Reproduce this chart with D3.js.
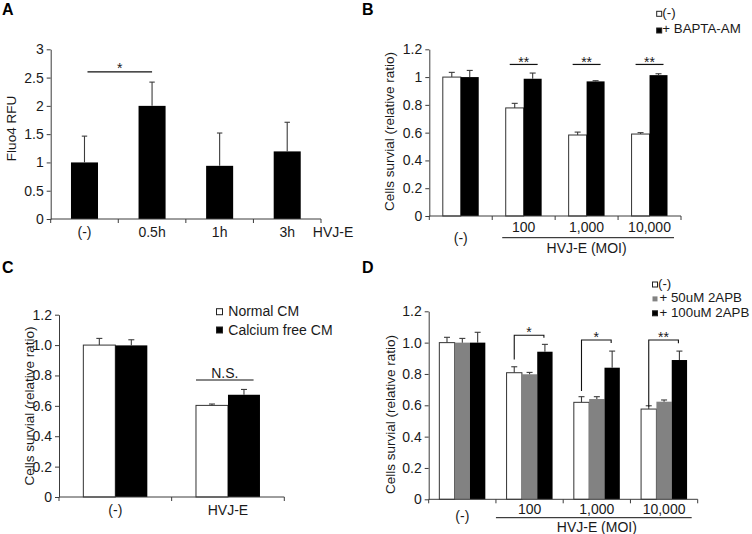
<!DOCTYPE html>
<html><head><meta charset="utf-8">
<script src="https://cdn.jsdelivr.net/npm/d3@7"></script>
<style>
body{margin:0;background:#fff;}
svg{display:block;font-family:"Liberation Sans",Arial,sans-serif;}
</style></head><body>
<svg id="chart" width="752" height="534"></svg>
<script>
// ---------- DATA ----------
// Panel A
const aCats = ["(-)", "0.5h", "1h", "3h"];
const aValues = [1.0, 2.0, 0.94, 1.195];
const aErrors = [0.465, 0.42, 0.58, 0.515];
const aTicks = [0, 0.5, 1, 1.5, 2, 2.5, 3];
const aSigPair = [0, 1];
const aSigLevel = 2.6;
const aSigLabel = "*";

// Panel B
const bCats = ["(-)", "100", "1,000", "10,000"];
const bSeries = ["(-)", "+ BAPTA-AM"];
const bControl = [1.0, 0.778, 0.583, 0.59];
const bControlErr = [0.034, 0.033, 0.021, 0.01];
const bBapta = [1.0, 0.988, 0.969, 1.014];
const bBaptaErr = [0.048, 0.041, 0.005, 0.01];
const bTicks = [0, 0.2, 0.4, 0.6, 0.8, 1, 1.2];
const bSigGroups = [1, 2, 3];
const bSigLevel = 1.091;
const bSigLabels = ["**", "**", "**"];

// Panel C
const cCats = ["(-)", "HVJ-E"];
const cSeries = ["Normal CM", "Calcium free CM"];
const cNormal = [1.0, 0.603];
const cNormalErr = [0.044, 0.009];
const cCaFree = [0.998, 0.673];
const cCaFreeErr = [0.037, 0.035];
const cTicks = [0, 0.2, 0.4, 0.6, 0.8, 1.0, 1.2];
const cSigGroup = 1;
const cSigLevel = 0.77;
const cSigLabel = "N.S.";

// Panel D
const dCats = ["(-)", "100", "1,000", "10,000"];
const dSeries = ["(-)", "+ 50uM 2APB", "+ 100uM 2APB"];
const dControl = [1.0, 0.808, 0.619, 0.576];
const dControlErr = [0.034, 0.038, 0.036, 0.021];
const d50 = [1.0, 0.798, 0.64, 0.623];
const d50Err = [0.027, 0.012, 0.015, 0.011];
const d100 = [1.0, 0.942, 0.84, 0.889];
const d100Err = [0.066, 0.047, 0.106, 0.057];
const dTicks = [0, 0.2, 0.4, 0.6, 0.8, 1.0, 1.2];
const dBracketGroups = [1, 2, 3];
const dBracketTop = [1.047, 1.017, 1.017];
const dBracketLeft = [0.893, 0.691, 0.591];
const dBracketRight = [1.031, 0.997, 0.996];
const dBracketLabels = ["*", "*", "**"];

// ---------- STYLE ----------
const FONT = '"Liberation Sans", Arial, sans-serif';
const AXIS = "#3c3c3c";
const ERR = "#3c3c3c";
const TXT = "#1a1a1a";
const GRAY = "#828282";

const svg = d3.select("#chart");

function styleAxis(g) {
  g.attr("font-family", FONT).attr("font-size", 14);
  g.select(".domain").attr("stroke", AXIS);
  g.selectAll(".tick line").attr("stroke", AXIS);
  g.selectAll(".tick text").attr("fill", TXT);
}

function drawYAxis(x0, y, ticks, fmt) {
  const g = svg.append("g").attr("transform", `translate(${x0},0)`)
    .call(d3.axisLeft(y).tickValues(ticks).tickFormat(fmt).tickSize(4).tickPadding(3).tickSizeOuter(0));
  styleAxis(g);
  return g;
}

function drawXAxisLine(x, y0) {
  const r = x.range();
  const g = svg.append("g");
  g.append("line").attr("x1", r[0]).attr("x2", r[1]).attr("y1", y0).attr("y2", y0)
    .attr("stroke", AXIS);
  const bounds = x.domain().map(c => x(c)).concat([r[1]]);
  g.selectAll("line.bt").data(bounds).join("line").attr("class", "bt")
    .attr("x1", d => d).attr("x2", d => d).attr("y1", y0).attr("y2", y0 + 4)
    .attr("stroke", AXIS);
}

function drawErr(cx, yTop, yErr, half) {
  svg.append("line").attr("x1", cx).attr("x2", cx).attr("y1", yTop).attr("y2", yErr)
    .attr("stroke", ERR).attr("stroke-width", 1.1);
  svg.append("line").attr("x1", cx - half).attr("x2", cx + half).attr("y1", yErr).attr("y2", yErr)
    .attr("stroke", ERR).attr("stroke-width", 1.1);
}

function yLabel(x, yc, text) {
  svg.append("text").attr("transform", `translate(${x},${yc}) rotate(-90)`)
    .attr("text-anchor", "middle").attr("font-size", 13.5).attr("fill", TXT).text(text);
}

function txt(x, y, s, size, anchor, weight) {
  return svg.append("text").attr("x", x).attr("y", y).attr("font-size", size)
    .attr("text-anchor", anchor || "middle").attr("font-weight", weight || "normal")
    .attr("fill", TXT).text(s);
}

// ---------- PANEL LETTERS ----------
[["A", 2, 15], ["B", 362, 15], ["C", 2, 273], ["D", 362, 273]].forEach(([l, x, y]) =>
  txt(x, y, l, 16, "start", "bold").attr("fill", "#000"));

// ---------- PANEL A ----------
{
  const x = d3.scaleBand().domain(aCats).range([50.7, 321]).padding(0);
  const y = d3.scaleLinear().domain([0, 3]).range([219, 49.3]);
  const bw = x.bandwidth() * 0.4;
  aCats.forEach((c, i) => {
    const cx = x(c) + x.bandwidth() / 2;
    svg.append("rect").attr("x", cx - bw / 2).attr("y", y(aValues[i]))
      .attr("width", bw).attr("height", y(0) - y(aValues[i])).attr("fill", "#000");
    drawErr(cx, y(aValues[i]), y(aValues[i] + aErrors[i]), 2.7);
    txt(cx, 237, c, 14);
  });
  drawYAxis(50.7, y, aTicks, d => String(d));
  drawXAxisLine(x, 219);
  txt(333, 237, "HVJ-E", 14);
  yLabel(16, 128.5, "Fluo4 RFU");
  const c0 = x(aCats[aSigPair[0]]) + x.bandwidth() / 2 + 3;
  const c1 = x(aCats[aSigPair[1]]) + x.bandwidth() / 2;
  svg.append("line").attr("x1", c0).attr("x2", c1).attr("y1", y(aSigLevel)).attr("y2", y(aSigLevel))
    .attr("stroke", "#111").attr("stroke-width", 1.2);
  txt((c0 + c1) / 2, y(aSigLevel) + 1.5, aSigLabel, 14);
}

// ---------- PANEL B ----------
{
  const x = d3.scaleBand().domain(bCats).range([429.3, 681]).padding(0);
  const y = d3.scaleLinear().domain([0, 1.2]).range([216, 49.3]);
  const gw = x.bandwidth() * 0.571;
  const xs = d3.scaleBand().domain(bSeries).range([0, gw]).padding(0);
  const vals = [bControl, bBapta], errs = [bControlErr, bBaptaErr];
  const fills = ["#fff", "#000"];
  bCats.forEach((c, i) => {
    const gx = x(c) + (x.bandwidth() - gw) / 2;
    bSeries.forEach((s, j) => {
      const v = vals[j][i];
      svg.append("rect").attr("x", gx + xs(s)).attr("y", y(v)).attr("width", xs.bandwidth())
        .attr("height", y(0) - y(v)).attr("fill", fills[j])
        .attr("stroke", j === 0 ? "#333" : "none").attr("stroke-width", 1);
      drawErr(gx + xs(s) + xs.bandwidth() / 2, y(v), y(v + errs[j][i]), 3);
    });
    const cx = x(c) + x.bandwidth() / 2;
    if (i === 0) txt(cx, 243, c, 14); else txt(cx, 231.5, c, 14);
  });
  drawYAxis(429.3, y, bTicks, d => String(d));
  drawXAxisLine(x, 216);
  svg.append("line").attr("x1", x(bCats[1]) + 10).attr("x2", x.range()[1] - 7)
    .attr("y1", 237.7).attr("y2", 237.7).attr("stroke", "#111");
  txt((x(bCats[1]) + x.range()[1]) / 2, 253, "HVJ-E (MOI)", 14);
  yLabel(394, 131.5, "Cells survial (relative ratio)");
  bSigGroups.forEach((gi, k) => {
    const gx = x(bCats[gi]) + (x.bandwidth() - gw) / 2;
    const x1 = gx + xs(bSeries[0]) + 4, x2 = gx + xs(bSeries[1]) + xs.bandwidth() - 4;
    svg.append("line").attr("x1", x1).attr("x2", x2).attr("y1", y(bSigLevel)).attr("y2", y(bSigLevel))
      .attr("stroke", "#111").attr("stroke-width", 1.2);
    txt((x1 + x2) / 2, y(bSigLevel) + 2.5, bSigLabels[k], 14);
  });
  // legend
  bSeries.forEach((s, j) => {
    const cy = 13.8 + j * 16.7;
    svg.append("rect").attr("x", 656.7).attr("y", cy - 2.5).attr("width", 5).attr("height", 5)
      .attr("fill", fills[j]).attr("stroke", "#222").attr("stroke-width", 1);
    txt(662.3, cy + 2.8, s, 13.3, "start");
  });
}

// ---------- PANEL C ----------
{
  const x = d3.scaleBand().domain(cCats).range([59, 284.3]).padding(0);
  const y = d3.scaleLinear().domain([0, 1.2]).range([497, 314.7]);
  const gw = x.bandwidth() * 0.568;
  const xs = d3.scaleBand().domain(cSeries).range([0, gw]).padding(0);
  const vals = [cNormal, cCaFree], errs = [cNormalErr, cCaFreeErr];
  const fills = ["#fff", "#000"];
  cCats.forEach((c, i) => {
    const gx = x(c) + (x.bandwidth() - gw) / 2;
    cSeries.forEach((s, j) => {
      const v = vals[j][i];
      svg.append("rect").attr("x", gx + xs(s)).attr("y", y(v)).attr("width", xs.bandwidth())
        .attr("height", y(0) - y(v)).attr("fill", fills[j])
        .attr("stroke", j === 0 ? "#333" : "none").attr("stroke-width", 1);
      drawErr(gx + xs(s) + xs.bandwidth() / 2, y(v), y(v + errs[j][i]), 3);
    });
    txt(x(c) + x.bandwidth() / 2, 515, c, 14);
  });
  drawYAxis(59, y, cTicks, d => d === 0 ? "0" : d.toFixed(1));
  drawXAxisLine(x, 497);
  yLabel(33.5, 406, "Cells survial (relative ratio)");
  {
    const gx = x(cCats[cSigGroup]) + (x.bandwidth() - gw) / 2;
    const x1 = gx + xs(cSeries[0]), x2 = gx + xs(cSeries[1]) + xs.bandwidth() * 0.8;
    svg.append("line").attr("x1", x1).attr("x2", x2).attr("y1", y(cSigLevel)).attr("y2", y(cSigLevel))
      .attr("stroke", "#111").attr("stroke-width", 1.2);
    txt((x1 + x2) / 2, y(cSigLevel) - 2.5, cSigLabel, 14);
  }
  cSeries.forEach((s, j) => {
    const cy = 311.7 + j * 18.3;
    svg.append("rect").attr("x", 216.5).attr("y", cy - 3).attr("width", 6).attr("height", 6)
      .attr("fill", fills[j]).attr("stroke", "#222").attr("stroke-width", 1);
    txt(228.3, cy + 4.7, s, 14, "start");
  });
}

// ---------- PANEL D ----------
{
  const x = d3.scaleBand().domain(dCats).range([428.7, 697.7]).padding(0);
  const y = d3.scaleLinear().domain([0, 1.2]).range([499.3, 311.3]);
  const gw = x.bandwidth() * 0.684;
  const xs = d3.scaleBand().domain(dSeries).range([0, gw]).padding(0);
  const vals = [dControl, d50, d100], errs = [dControlErr, d50Err, d100Err];
  const fills = ["#fff", GRAY, "#000"];
  dCats.forEach((c, i) => {
    const gx = x(c) + (x.bandwidth() - gw) / 2;
    dSeries.forEach((s, j) => {
      const v = vals[j][i];
      svg.append("rect").attr("x", gx + xs(s)).attr("y", y(v)).attr("width", xs.bandwidth())
        .attr("height", y(0) - y(v)).attr("fill", fills[j])
        .attr("stroke", j === 0 ? "#333" : "none").attr("stroke-width", 1);
      drawErr(gx + xs(s) + xs.bandwidth() / 2, y(v), y(v + errs[j][i]), 3);
    });
    const cx = x(c) + x.bandwidth() / 2;
    if (i === 0) txt(cx, 521, c, 14); else txt(cx, 513.5, c, 14);
  });
  drawYAxis(428.7, y, dTicks, d => d === 0 ? "0" : d.toFixed(1));
  drawXAxisLine(x, 499.3);
  svg.append("line").attr("x1", x(dCats[1])).attr("x2", x.range()[1] - 6)
    .attr("y1", 517.7).attr("y2", 517.7).attr("stroke", "#111");
  txt((x(dCats[1]) + x.range()[1]) / 2, 532, "HVJ-E (MOI)", 14);
  yLabel(395, 414.5, "Cells survial (relative ratio)");
  dBracketGroups.forEach((gi, k) => {
    const gx = x(dCats[gi]) + (x.bandwidth() - gw) / 2;
    const x1 = gx + xs(dSeries[0]) + xs.bandwidth() / 2;
    const x2 = gx + xs(dSeries[2]) + xs.bandwidth() / 2 - 1;
    const pts = [[x1, y(dBracketLeft[k])], [x1, y(dBracketTop[k])], [x2, y(dBracketTop[k])], [x2, y(dBracketRight[k])]];
    svg.append("path").attr("d", d3.line()(pts)).attr("fill", "none")
      .attr("stroke", "#111").attr("stroke-width", 1.1);
    txt((x1 + x2) / 2, y(dBracketTop[k]) + 2, dBracketLabels[k], 14);
  });
  dSeries.forEach((s, j) => {
    const cy = 284.5 + j * 14.4;
    svg.append("rect").attr("x", 652.5).attr("y", cy - 2.5).attr("width", 5).attr("height", 5)
      .attr("fill", fills[j]).attr("stroke", j === 1 ? "none" : "#222").attr("stroke-width", 1);
    txt(j === 0 ? 658 : 659.5, cy + 3.2, s, 13.3, "start");
  });
}
</script>
</body></html>
